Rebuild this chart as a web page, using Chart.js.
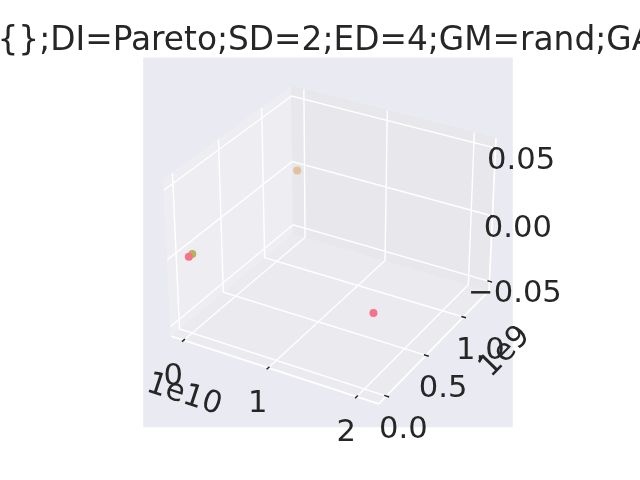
<!DOCTYPE html>
<html><head><meta charset="utf-8">
<script src="https://cdn.jsdelivr.net/npm/chart.js@4.4.1/dist/chart.umd.min.js"></script>
<style>html,body{margin:0;padding:0;background:#fff}</style>
</head><body>
<canvas id="c" width="640" height="480" style="width:640px;height:480px;display:block"></canvas>
<script>
// ---------------- data ----------------
const titleText = '{};DI=Pareto;SD=2;ED=4;GM=rand;GA';
const s0x = [0, 2.09e10], s0y = [0, 0], s0z = [0, 0];
const s1x = [0], s1y = [1.27e9], s1z = [0];
const s2x = [0], s2y = [3.8e7], s2z = [0];
const seriesColors = ['#f7718a', 'rgba(213,140,50,0.42)', 'rgba(164,166,49,0.8)'];
const xTicks = [0, 1e10, 2e10], xTickLabels = ['0', '1', '2'], xOffsetLabel = '1e10';
const yTicks = [0, 0.5e9, 1e9], yTickLabels = ['0.0', '0.5', '1.0'], yOffsetLabel = '1e9';
const zTicks = [-0.05, 0, 0.05], zTickLabels = ['\u22120.05', '0.00', '0.05'];

// ---------------- 3D projection (matplotlib-like) ----------------
function lims(arr) {
  let lo = Math.min(...arr), hi = Math.max(...arr);
  if (hi === lo) { lo -= 0.05; hi += 0.05; }
  const m = 0.05 * (hi - lo);
  return [lo - m, hi + m];
}
const XL = lims([...s0x, ...s1x, ...s2x]);
const YL = lims([...s0y, ...s1y, ...s2y]);
const ZL = lims([...s0z, ...s1z, ...s2z]);
const asp0 = [4, 4, 3];
const an = Math.hypot(...asp0);
const asp = asp0.map(a => a * 1.8294640721620434 / an);
const el = 30 * Math.PI / 180, az = -60 * Math.PI / 180, dist = 10;
const sub = (a, b) => a.map((v, i) => v - b[i]);
const dot = (a, b) => a[0] * b[0] + a[1] * b[1] + a[2] * b[2];
const cross = (a, b) => [a[1] * b[2] - a[2] * b[1], a[2] * b[0] - a[0] * b[2], a[0] * b[1] - a[1] * b[0]];
const norm = a => { const n = Math.hypot(...a); return a.map(v => v / n); };
const Rc = asp.map(a => a / 2);
const ps = [Math.cos(el) * Math.cos(az), Math.cos(el) * Math.sin(az), Math.sin(el)];
const E = Rc.map((r, i) => r + dist * ps[i]);
const W = norm(sub(E, Rc));
const U = norm(cross([0, 0, 1], W));
const V = cross(W, U);
const toBox = (x, y, z) => [
  (x - XL[0]) / (XL[1] - XL[0]) * asp[0],
  (y - YL[0]) / (YL[1] - YL[0]) * asp[1],
  (z - ZL[0]) / (ZL[1] - ZL[0]) * asp[2]];
function projBox(b) {
  const p = sub(b, E);
  const xv = dot(U, p), yv = dot(V, p), zv = dot(W, p);
  return { x: xv / (-zv), y: yv / (-zv) };
}
const proj = (x, y, z) => projBox(toBox(x, y, z));
// pane bounds in box coordinates
const bLo = asp.map(a => -a / 48), bHi = asp.map(a => a * 49 / 48);
const boxOf = (i, val) => (i === 0 ? (val - XL[0]) / (XL[1] - XL[0]) : i === 1 ? (val - YL[0]) / (YL[1] - YL[0]) : (val - ZL[0]) / (ZL[1] - ZL[0])) * asp[i];

function mk(xs, ys, zs) { return xs.map((x, i) => proj(x, ys[i], zs[i])); }

// ---------------- drawing helpers ----------------
const FIG = { l: 143.2, t: 57.6, r: 512.8, b: 427.2 };
const TXT = '#262626';
const tickFont = '30.6px "DejaVu Sans"';

const axes3d = {
  id: 'axes3d',
  beforeDatasetsDraw(chart) {
    const ctx = chart.ctx, sx = chart.scales.x, sy = chart.scales.y;
    const P = b => { const q = projBox(b); return [sx.getPixelForValue(q.x), sy.getPixelForValue(q.y)]; };
    const ca = chart.chartArea;
    ctx.save();
    ctx.fillStyle = '#EAEAF2';
    ctx.fillRect(ca.left, ca.top, ca.right - ca.left, ca.bottom - ca.top);
    const poly = (pts, fill) => {
      ctx.beginPath();
      pts.forEach((p, i) => { const q = P(p); i ? ctx.lineTo(q[0], q[1]) : ctx.moveTo(q[0], q[1]); });
      ctx.closePath(); ctx.fillStyle = fill; ctx.fill();
      ctx.strokeStyle = fill; ctx.lineWidth = 1; ctx.stroke();
    };
    const [x0, y0, z0] = bLo, [x1, y1, z1] = bHi;
    // panes: x pane at xmin, y pane at ymax, z pane at zmin
    poly([[x0, y0, z0], [x0, y1, z0], [x0, y1, z1], [x0, y0, z1]], 'rgba(242,242,242,0.5)');
    poly([[x0, y1, z0], [x1, y1, z0], [x1, y1, z1], [x0, y1, z1]], 'rgba(230,230,230,0.5)');
    poly([[x0, y0, z0], [x1, y0, z0], [x1, y1, z0], [x0, y1, z0]], 'rgba(236,236,236,0.5)');
    const line = (pts, color, lw) => {
      ctx.beginPath();
      pts.forEach((p, i) => { const q = P(p); i ? ctx.lineTo(q[0], q[1]) : ctx.moveTo(q[0], q[1]); });
      ctx.strokeStyle = color; ctx.lineWidth = lw; ctx.lineCap = 'butt'; ctx.stroke();
    };
    // grid lines
    xTicks.forEach(t => { const b = boxOf(0, t); line([[b, y0, z0], [b, y1, z0], [b, y1, z1]], '#ffffff', 1.4); });
    yTicks.forEach(t => { const b = boxOf(1, t); line([[x1, b, z0], [x0, b, z0], [x0, b, z1]], '#ffffff', 1.4); });
    zTicks.forEach(t => { const b = boxOf(2, t); line([[x0, y0, b], [x0, y1, b], [x1, y1, b]], '#ffffff', 1.4); });
    // axis lines
    line([[x0, y0, z0], [x1, y0, z0]], '#ffffff', 1.7);
    line([[x1, y0, z0], [x1, y1, z0]], '#ffffff', 1.7);
    line([[x1, y1, z0], [x1, y1, z1]], '#ffffff', 1.7);
    // ticks
    const dY = asp[1] / 12, dX = asp[0] / 12;
    xTicks.forEach(t => { const b = boxOf(0, t); line([[b, y0 + 0.12 * dY, z0], [b, y0 - 0.16 * dY, z0]], TXT, 1.5); });
    yTicks.forEach(t => { const b = boxOf(1, t); line([[x1 - 0.12 * dX, b, z0], [x1 + 0.16 * dX, b, z0]], TXT, 1.5); });
    zTicks.forEach(t => { const b = boxOf(2, t); line([[x1 - 0.12 * dX, y1, b], [x1 + 0.16 * dX, y1, b]], TXT, 1.5); });
    // tick labels
    ctx.fillStyle = TXT; ctx.font = tickFont; ctx.textAlign = 'center'; ctx.textBaseline = 'alphabetic';
    const fs = 30.6, cy = 0.364 * fs;
    xTicks.forEach((t, i) => { const q = P([boxOf(0, t), y0, z0]); ctx.fillText(xTickLabels[i], q[0] - 10.5, q[1] + 33.4 + cy); });
    yTicks.forEach((t, i) => { const q = P([x1, boxOf(1, t), z0]); ctx.fillText(yTickLabels[i], q[0] + 17, q[1] + 31 + cy); });
    zTicks.forEach((t, i) => { const q = P([x1, y1, boxOf(2, t)]); ctx.fillText(zTickLabels[i], q[0] + 25.5, q[1] + 9.4 + cy); });
    // offset texts
    const rot = (txt, a, b, anchor, off) => {
      const pa = P(a), pb = P(b), q = P(anchor);
      const ang = Math.atan2(pb[1] - pa[1], pb[0] - pa[0]);
      ctx.save(); ctx.translate(q[0] + off[0], q[1] + off[1]); ctx.rotate(ang);
      ctx.fillText(txt, 0, cy); ctx.restore();
    };
    rot(xOffsetLabel, [x0, y0, z0], [x1, y0, z0], [x0, y0, z0], [14, 56]);
    rot(yOffsetLabel, [x1, y0, z0], [x1, y1, z0], [x1, y1, z0], [14, 59]);
    ctx.restore();
  },
  afterDraw(chart) {
    const ctx = chart.ctx;
    ctx.save();
    ctx.fillStyle = TXT; ctx.font = '32.8px "DejaVu Sans"';
    ctx.textAlign = 'left'; ctx.textBaseline = 'alphabetic';
    ctx.fillText(titleText, -2.5, 50);
    ctx.restore();
  }
};

const mkDs = (data, color) => ({
  data, backgroundColor: color, borderWidth: 0, pointRadius: 4, pointHoverRadius: 4,
  pointStyle: 'circle', showLine: false, clip: false
});

new Chart(document.getElementById('c'), {
  type: 'scatter',
  data: {
    datasets: [
      mkDs(mk(s0x, s0y, s0z), seriesColors[0]),
      mkDs(mk(s1x, s1y, s1z), seriesColors[1]),
      mkDs(mk(s2x, s2y, s2z), seriesColors[2])
    ]
  },
  options: {
    responsive: false, animation: false, devicePixelRatio: 1,
    layout: { padding: { left: FIG.l, right: 640 - FIG.r, top: FIG.t, bottom: 480 - FIG.b } },
    scales: {
      x: { type: 'linear', min: -0.095, max: 0.09, display: false },
      y: { type: 'linear', min: -0.095, max: 0.09, display: false }
    },
    plugins: { legend: { display: false }, tooltip: { enabled: false }, title: { display: false } }
  },
  plugins: [axes3d]
});
</script>
</body></html>
